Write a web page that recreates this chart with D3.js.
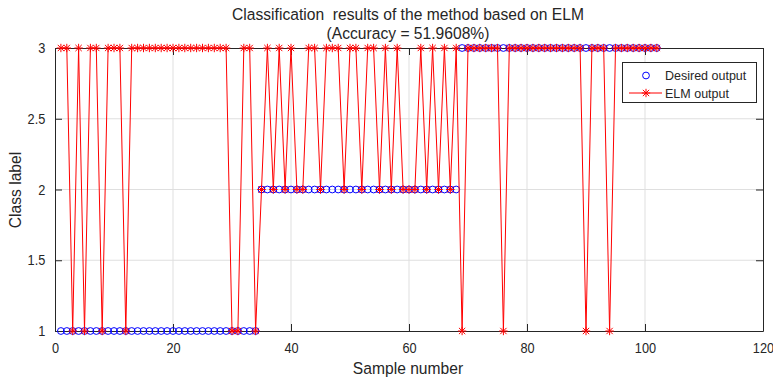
<!DOCTYPE html><html>
<head>
<meta charset="utf-8">
<style>
body { margin: 0; padding: 0; background: #fff; }
text { font-family: "Liberation Sans", Arial, sans-serif; fill: #262626; }
.grid line { stroke: #dfdfdf; stroke-width: 1px; }
</style>
</head>
<body>
<svg id="chart" width="773" height="382"></svg>
<script src="https://cdn.jsdelivr.net/npm/d3@7"></script>
<script>
// sample numbers 1..102
var samples = [
  1,2,3,4,5,6,7,8,9,10,11,12,13,14,15,16,17,18,19,20,
  21,22,23,24,25,26,27,28,29,30,31,32,33,34,35,36,37,38,39,40,
  41,42,43,44,45,46,47,48,49,50,51,52,53,54,55,56,57,58,59,60,
  61,62,63,64,65,66,67,68,69,70,71,72,73,74,75,76,77,78,79,80,
  81,82,83,84,85,86,87,88,89,90,91,92,93,94,95,96,97,98,99,100,
  101,102];

var desiredOutput = [
  1,1,1,1,1,1,1,1,1,1, 1,1,1,1,1,1,1,1,1,1, 1,1,1,1,1,1,1,1,1,1, 1,1,1,1,
  2,2,2,2,2,2,2,2,2,2, 2,2,2,2,2,2,2,2,2,2, 2,2,2,2,2,2,2,2,2,2, 2,2,2,2,
  3,3,3,3,3,3,3,3,3,3, 3,3,3,3,3,3,3,3,3,3, 3,3,3,3,3,3,3,3,3,3, 3,3,3,3];

var elmOutput = [
  3,3,1,3,1,3,3,1,3,3, 3,1,3,3,3,3,3,3,3,3, 3,3,3,3,3,3,3,3,3,1, 1,3,3,1,
  2,3,2,3,2,3,2,2,3,3, 2,3,3,3,2,3,3,2,3,3, 2,3,2,3,2,2,2,3,2,3, 2,3,2,3,
  1,3,3,3,3,3,3,1,3,3, 3,3,3,3,3,3,3,3,3,3, 3,1,3,3,3,1,3,3,3,3, 3,3,3,3];

var xTicks = [0, 20, 40, 60, 80, 100, 120];
var yTicks = [1, 1.5, 2, 2.5, 3];
var legendLabels = ["Desired output", "ELM output"];

var svg = d3.select("#chart");
var pLeft = 55, pRight = 763, pTop = 48, pBottom = 331;

var x = d3.scaleLinear().domain([0, 120]).range([pLeft, pRight]);
var y = d3.scaleLinear().domain([1, 3]).range([pBottom, pTop]);

// grid
var grid = svg.append("g").attr("class", "grid");
grid.selectAll("line.gx").data(xTicks.slice(1, -1)).enter().append("line")
  .attr("x1", d => x(d)).attr("x2", d => x(d))
  .attr("y1", pTop).attr("y2", pBottom);
grid.selectAll("line.gy").data(yTicks.slice(1, -1)).enter().append("line")
  .attr("y1", d => y(d)).attr("y2", d => y(d))
  .attr("x1", pLeft).attr("x2", pRight);

// axes with inward ticks on all four sides
var tk = 7;
function fmt(d) { return d3.format("")(d); }
svg.append("g").attr("transform", "translate(0," + pBottom + ")")
  .call(d3.axisBottom(x).tickValues(xTicks).tickSizeInner(-tk).tickSizeOuter(0).tickPadding(12).tickFormat(fmt));
svg.append("g").attr("transform", "translate(0," + pTop + ")")
  .call(d3.axisTop(x).tickValues(xTicks).tickSizeInner(-tk).tickSizeOuter(0).tickFormat(""));
svg.append("g").attr("transform", "translate(" + pLeft + ",0)")
  .call(d3.axisLeft(y).tickValues(yTicks).tickSizeInner(-tk).tickSizeOuter(0).tickPadding(11).tickFormat(fmt));
svg.append("g").attr("transform", "translate(" + pRight + ",0)")
  .call(d3.axisRight(y).tickValues(yTicks).tickSizeInner(-tk).tickSizeOuter(0).tickFormat(""));
svg.selectAll(".domain").attr("stroke", "#262626").attr("stroke-width", 1);
svg.selectAll(".tick line").attr("stroke", "#262626");
svg.selectAll(".tick text").attr("font-size", 14.5)
  .attr("transform", "scale(0.88,1)")
  .style("font-family", "'Liberation Sans', Arial, sans-serif").attr("fill", "#262626");

// desired output circles
var marks = svg.append("g");
marks.selectAll("circle.desired").data(samples).enter().append("circle")
  .attr("class", "desired")
  .attr("cx", (d, i) => x(samples[i]))
  .attr("cy", (d, i) => y(desiredOutput[i]))
  .attr("r", 3.4)
  .attr("fill", "none").attr("stroke", "#0000ff").attr("stroke-width", 1);

// ELM output line + star markers
var line = d3.line().x((d, i) => x(samples[i])).y(d => y(d));
marks.append("path").datum(elmOutput)
  .attr("d", line).attr("fill", "none").attr("stroke", "#ff0000").attr("stroke-width", 1);

function star(g, s) {
  g.append("line").attr("x1", -s).attr("x2", s).attr("y1", 0).attr("y2", 0);
  g.append("line").attr("x1", 0).attr("x2", 0).attr("y1", -s).attr("y2", s);
  var k = s * 0.75;
  g.append("line").attr("x1", -k).attr("x2", k).attr("y1", -k).attr("y2", k);
  g.append("line").attr("x1", -k).attr("x2", k).attr("y1", k).attr("y2", -k);
}
marks.selectAll("g.elm").data(elmOutput).enter().append("g")
  .attr("class", "elm")
  .attr("transform", (d, i) => "translate(" + x(samples[i]) + "," + y(d) + ")")
  .attr("stroke", "#ff0000").attr("stroke-width", 1)
  .each(function () { star(d3.select(this), 4.2); });

// titles (condensed like the reference)
var titles = ["Classification  results of the method based on ELM", "(Accuracy = 51.9608%)"];
svg.selectAll("text.title").data(titles).enter().append("text")
  .attr("class", "title")
  .attr("transform", (d, i) => "translate(408," + (20 + i * 19) + ") scale(0.92,1)")
  .attr("text-anchor", "middle").attr("font-size", 17).attr("fill", "#000")
  .style("white-space", "pre").text(d => d);
svg.append("text").attr("transform", "translate(408,374) scale(0.92,1)").attr("text-anchor", "middle")
  .attr("font-size", 17).text("Sample number");
svg.append("text").attr("transform", "translate(21,190) rotate(-90) scale(0.92,1)").attr("text-anchor", "middle")
  .attr("font-size", 17).text("Class label");

// legend
var lg = svg.append("g");
lg.append("rect").attr("x", 622.5).attr("y", 62.5).attr("width", 134).attr("height", 40)
  .attr("fill", "#fff").attr("stroke", "#262626").attr("stroke-width", 1);
lg.append("circle").attr("cx", 646).attr("cy", 75.5).attr("r", 3.4)
  .attr("fill", "none").attr("stroke", "#0000ff");
lg.append("line").attr("x1", 629).attr("x2", 662).attr("y1", 93).attr("y2", 93)
  .attr("stroke", "#ff0000");
var ls = lg.append("g").attr("transform", "translate(646,93)").attr("stroke", "#ff0000");
star(ls, 4.2);
lg.selectAll("text.lgl").data(legendLabels).enter().append("text")
  .attr("x", 665).attr("y", (d, i) => 80 + i * 18)
  .attr("font-size", 12.5).attr("fill", "#000").text(d => d);
</script>
</body>
</html>
